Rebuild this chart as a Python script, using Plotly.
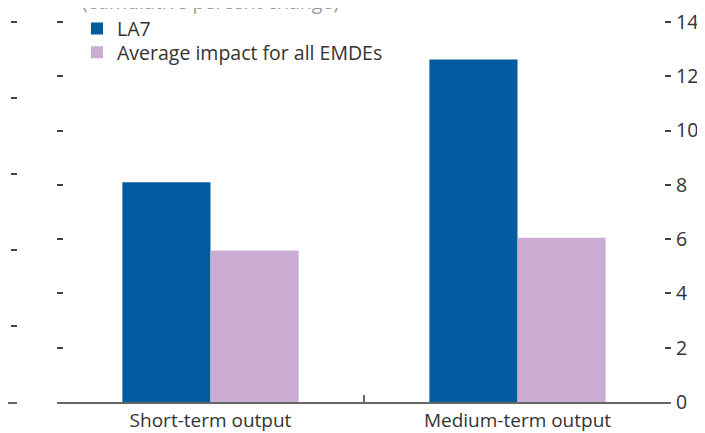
import plotly.graph_objects as go

categories = ["Short-term output", "Medium-term output"]
la7_values = [8.1, 12.62]
emde_values = [5.58, 6.05]
y_ticks = [0, 2, 4, 6, 8, 10, 12, 14]
left_panel_ticks = [0, 1, 2, 3, 4, 5]

BLUE = "#005C9E"
LAV = "#CBACD2"
FONT = "Open Sans"
TXT = "#333333"
W, H = 697, 425
L, R, T, B = 0, 34, 9, 29
PW = W - L - R
PH = H - T - B
YTOP = 14.11  # a hair above 14 so the top tick is drawn


def py(px):
    """figure-pixel y -> paper y"""
    return 1 - (px - T) / PH


fig = go.Figure()
fig.add_trace(go.Bar(name="LA7", x=categories, y=la7_values, marker_color=BLUE,
                     marker_line_width=0, xaxis="x", yaxis="y", legend="legend"))
fig.add_trace(go.Bar(name="Average impact for all EMDEs", x=categories, y=emde_values,
                     marker_color=LAV, marker_line_width=0, xaxis="x", yaxis="y",
                     legend="legend2"))
# neighbouring (cropped) panel axis stub
fig.add_trace(go.Scatter(x=[0.5], y=[0], mode="markers", marker_opacity=0,
                         showlegend=False, hoverinfo="skip", xaxis="x2", yaxis="y2"))

leg_common = dict(xanchor="left", yanchor="middle", bgcolor="rgba(0,0,0,0)",
                  font=dict(size=19.5, color=TXT), itemwidth=30)

fig.update_layout(
    width=W, height=H,
    margin=dict(l=L, r=R, t=T, b=B, pad=0),
    paper_bgcolor="white", plot_bgcolor="white",
    font=dict(family=FONT, size=19, color=TXT),
    barmode="group", bargap=0.426, bargroupgap=0,
    showlegend=True,
    legend=dict(x=69 / PW, y=py(19), **leg_common),
    legend2=dict(x=69 / PW, y=py(43), **leg_common),
    xaxis=dict(domain=[49 / PW, 1], type="category", tickson="boundaries",
               ticks="inside", ticklen=7, tickwidth=2, tickcolor="#666666",
               showline=True, linecolor="#666666", linewidth=2,
               showgrid=False, zeroline=False, anchor="y",
               tickfont=dict(size=19, color=TXT)),
    yaxis=dict(domain=[0, 1], range=[0, YTOP], tickvals=y_ticks, side="right",
               ticks="inside", ticklen=6, tickwidth=1.5, tickcolor="#444444",
               mirror="ticks", showline=False, showgrid=False, zeroline=False,
               ticklabeloverflow="allow", ticklabelstandoff=4,
               anchor="x", tickfont=dict(size=19.5, color=TXT)),
    xaxis2=dict(domain=[0, 9 / PW], range=[0, 1], tickvals=[1], ticks="inside",
                ticklen=7, tickwidth=2, tickcolor="#666666", showticklabels=False,
                showline=True, linecolor="#666666", linewidth=2,
                showgrid=False, zeroline=False, anchor="y2"),
    yaxis2=dict(domain=[0, 1], range=[0, 5 * YTOP / 14], tickvals=left_panel_ticks,
                side="right", ticks="inside", ticklen=6, tickwidth=1.5,
                tickcolor="#444444", showticklabels=False, showline=False,
                showgrid=False, zeroline=False, anchor="x2"),
    annotations=[dict(text="(cumulative percent change)", xref="paper", yref="paper",
                      x=72 / PW, xanchor="left", y=py(-9),
                      yanchor="middle", showarrow=False,
                      font=dict(size=19.5, color="#999999", family=FONT))],
)

fig.write_html("out.html")
